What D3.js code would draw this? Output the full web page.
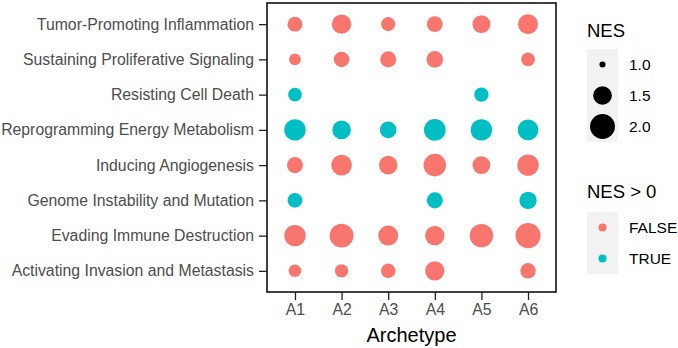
<!DOCTYPE html>
<html>
<head>
<meta charset="utf-8">
<script src="https://cdn.jsdelivr.net/npm/d3@7"></script>
<style>
  body { margin: 0; background: #fff; }
  svg { display: block; font-family: "Liberation Sans", Arial, sans-serif; }
</style>
</head>
<body>
<svg id="chart"></svg>
<script>
const archetypes = ["A1", "A2", "A3", "A4", "A5", "A6"];
const hallmarks = [
  "Tumor-Promoting Inflammation",
  "Sustaining Proliferative Signaling",
  "Resisting Cell Death",
  "Reprogramming Energy Metabolism",
  "Inducing Angiogenesis",
  "Genome Instability and Mutation",
  "Evading Immune Destruction",
  "Activating Invasion and Metastasis"
];
// signed NES per hallmark, one value per archetype (null = not shown)
const nesInflammation = [-1.28, -1.55, -1.24, -1.32, -1.45, -1.59];
const nesProliferative = [-1.14, -1.31, -1.34, -1.37, null, -1.22];
const nesCellDeath = [1.22, null, null, null, 1.25, null];
const nesMetabolism = [1.70, 1.49, 1.37, 1.72, 1.70, 1.64];
const nesAngiogenesis = [-1.34, -1.64, -1.49, -1.79, -1.45, -1.70];
const nesGenome = [1.27, null, null, 1.34, null, 1.41];
const nesImmune = [-1.70, -1.91, -1.59, -1.55, -1.86, -2.02];
const nesInvasion = [-1.17, -1.21, -1.26, -1.55, null, -1.31];
const nesRows = [nesInflammation, nesProliferative, nesCellDeath, nesMetabolism,
  nesAngiogenesis, nesGenome, nesImmune, nesInvasion];
const sizeBreaks = [1.0, 1.5, 2.0];
const signLevels = ["FALSE", "TRUE"];

const width = 678, height = 348;
const svg = d3.select("#chart").attr("width", width).attr("height", height);

const panel = { left: 267, right: 556, top: 3, bottom: 292 };

const x = d3.scalePoint().domain(archetypes).range([panel.left, panel.right]).padding(0.6);
const y = d3.scalePoint().domain(hallmarks).range([panel.top, panel.bottom]).padding(0.6);
const rScale = d3.scaleSqrt().domain([0, 1.12]).range([1.5, 13]).clamp(true);
const r = v => rScale(Math.abs(v) - 0.98);
const color = d3.scaleOrdinal().domain(signLevels).range(["#F8766D", "#00BFC4"]);

const points = [];
nesRows.forEach((row, i) => {
  row.forEach((v, j) => {
    if (v != null) points.push({ hallmark: hallmarks[i], archetype: archetypes[j], nes: v });
  });
});

// points
svg.append("g").selectAll("circle")
  .data(points)
  .enter()
  .append("circle")
  .attr("cx", d => x(d.archetype))
  .attr("cy", d => y(d.hallmark))
  .attr("r", d => r(d.nes))
  .attr("fill", d => color(d.nes > 0 ? "TRUE" : "FALSE"));

// panel border
svg.append("rect")
  .attr("x", panel.left).attr("y", panel.top)
  .attr("width", panel.right - panel.left)
  .attr("height", panel.bottom - panel.top)
  .attr("fill", "none").attr("stroke", "#111").attr("stroke-width", 1.6);

// axes
const xAxis = svg.append("g")
  .attr("transform", `translate(0,${panel.bottom})`)
  .call(d3.axisBottom(x).tickSize(8).tickPadding(4));
const yAxis = svg.append("g")
  .attr("transform", `translate(${panel.left},0)`)
  .call(d3.axisLeft(y).tickSize(8).tickPadding(5));
[xAxis, yAxis].forEach(a => {
  a.select(".domain").remove();
  a.selectAll(".tick line").attr("stroke", "#222").attr("stroke-width", 1.3);
  a.selectAll(".tick text")
    .attr("fill", "#4D4D4D")
    .style("font-size", "15.8px")
    .style("font-family", "Liberation Sans, Arial, sans-serif");
});

svg.append("text")
  .attr("x", (panel.left + panel.right) / 2)
  .attr("y", 342)
  .attr("text-anchor", "middle")
  .style("font-size", "20px")
  .attr("fill", "#000")
  .text("Archetype");

// size legend
const lg = svg.append("g").attr("transform", "translate(587,0)");
lg.append("text").attr("x", 0).attr("y", 37).style("font-size", "18.5px").text("NES");
const keyH = 31;
lg.append("rect").attr("x", 0).attr("y", 49).attr("width", 31).attr("height", keyH * 3).attr("fill", "#F2F2F2");
sizeBreaks.forEach((b, i) => {
  const cy = 49 + keyH * i + keyH / 2;
  lg.append("circle").attr("cx", 15.5).attr("cy", cy).attr("r", r(b)).attr("fill", "#000");
  lg.append("text").attr("x", 42).attr("y", cy).attr("dy", "0.35em")
    .style("font-size", "15.5px").attr("fill", "#000").text(b.toFixed(1));
});

// colour legend
const lc = svg.append("g").attr("transform", "translate(587,0)");
lc.append("text").attr("x", 0).attr("y", 198).style("font-size", "18.5px").text("NES > 0");
lc.append("rect").attr("x", 0).attr("y", 212).attr("width", 31).attr("height", keyH * 2).attr("fill", "#F2F2F2");
signLevels.forEach((s, i) => {
  const cy = 212 + keyH * i + keyH / 2;
  lc.append("circle").attr("cx", 15.5).attr("cy", cy).attr("r", 4).attr("fill", color(s));
  lc.append("text").attr("x", 42).attr("y", cy).attr("dy", "0.35em")
    .style("font-size", "15.5px").attr("fill", "#000").text(s);
});
</script>
</body>
</html>
